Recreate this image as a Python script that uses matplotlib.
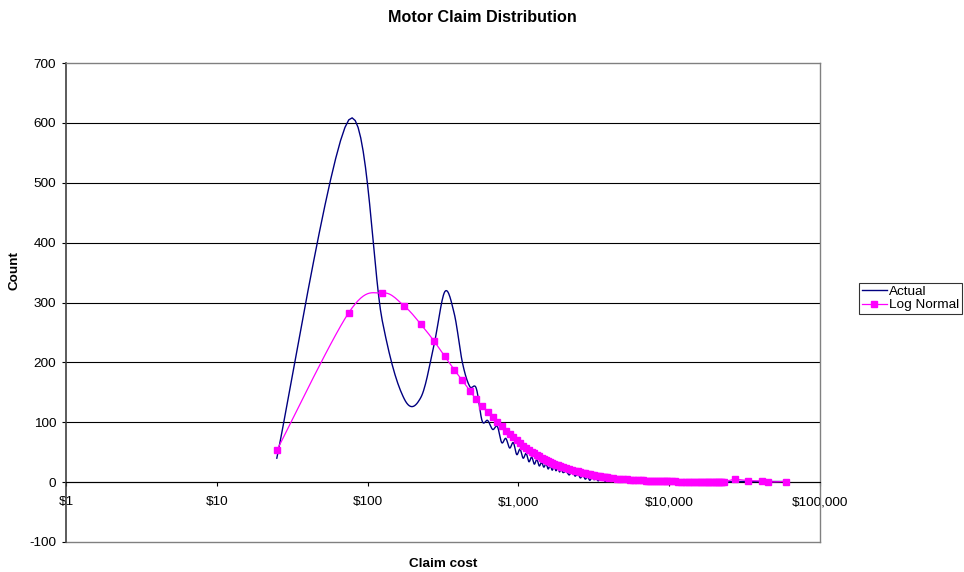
import numpy as np
import matplotlib
matplotlib.use('Agg')
import matplotlib.pyplot as plt
from matplotlib.lines import Line2D
from matplotlib.ticker import FuncFormatter, NullLocator

# claim cost bin centres ($), split by range
cost_to_2k = [25, 75, 125, 175, 225, 275, 325, 375, 425, 475, 525, 575, 625, 675, 725,
              775, 825, 875, 925, 975, 1025, 1075, 1125, 1175, 1225, 1275, 1325, 1375,
              1425, 1475, 1525, 1575, 1625, 1675, 1725, 1775, 1825, 1875, 1925, 1975]
cost_to_4k = [2075, 2175, 2275, 2375, 2475, 2575, 2675, 2775, 2875, 2975,
              3075, 3175, 3275, 3375, 3475, 3575, 3675, 3775, 3875, 3975]
cost_to_10k = [4225, 4475, 4725, 4975, 5225, 5475, 5725, 5975, 6225, 6475, 6725, 6975,
               7225, 7475, 7725, 7975, 8225, 8475, 8725, 8975, 9225, 9475, 9725, 9975]
cost_to_23k = [10475, 10975, 11475, 11975, 12475, 12975, 13475, 13975, 14475, 14975,
               15475, 15975, 16475, 16975, 17475, 17975, 18475, 18975, 19475, 19975,
               20475, 20975, 21475, 21975, 22475, 22975]
cost_large = [27275, 33475, 41425, 45425, 59275]

actual_to_2k = [40, 605, 270, 139, 141, 228, 318, 282, 200, 160, 157, 102, 103, 88, 93,
                66, 73, 57, 66, 46, 55, 40, 48, 34, 42, 30, 38, 27, 33, 25, 31, 22, 28,
                20, 26, 19, 24, 17, 23, 16]
actual_to_4k = [18, 12, 20, 10, 15, 7, 12, 5, 9, 3, 8, 4, 7, 2, 6, 3, 5, 1, 12, 2]
actual_to_10k = [4, 1, 3, 1, 2, 0, 2, 1, 1, 0, 2, 0, 1, 0, 1, 1, 0, 1, 0, 1, 0, 1, 0, 1]
actual_to_23k = [0, 1, 0, 0, 1, 0, 0, 1, 0, 0, 0, 1, 0, 0, 0, 1, 0, 0, 0, 0, 1, 0, 0, 0, 1, 0]
actual_large = [1, 1, 1, 1, 1]

lognorm_to_2k = [53, 283, 316, 294, 264, 236, 210, 188, 170, 153, 138, 127, 117, 108, 100,
                 93, 86, 80, 75, 70, 65, 61, 57, 54, 51, 48, 45, 43, 41, 39, 37, 35, 33.5,
                 32, 30.5, 29, 28, 27, 26, 25]
lognorm_to_4k = [23.5, 22, 20.5, 19, 18, 17, 16, 15, 14, 13, 12.3, 11.6, 11, 10.4, 9.8,
                 9.3, 8.8, 8.3, 7.9, 7.5]
lognorm_to_10k = [6.7, 6.0, 5.4, 4.9, 4.5, 4.1, 3.8, 3.5, 3.2, 3.0, 2.8, 2.6, 2.4, 2.3,
                  2.1, 2.0, 1.9, 1.8, 1.7, 1.6, 1.5, 1.4, 1.35, 1.3]
lognorm_to_23k = [1.2, 1.1, 1.0, 0.95, 0.9, 0.85, 0.8, 0.75, 0.7, 0.65, 0.6, 0.57, 0.54,
                  0.51, 0.48, 0.45, 0.43, 0.41, 0.39, 0.37, 0.35, 0.33, 0.31, 0.3, 0.28, 0.27]
lognorm_large = [4.5, 2.5, 2, 0.3, 1]

cost = np.array(cost_to_2k + cost_to_4k + cost_to_10k + cost_to_23k + cost_large, float)
actual = np.array(actual_to_2k + actual_to_4k + actual_to_10k + actual_to_23k + actual_large, float)
lognorm = np.array(lognorm_to_2k + lognorm_to_4k + lognorm_to_10k + lognorm_to_23k + lognorm_large, float)

plt.rcParams['font.family'] = ['Liberation Sans', 'DejaVu Sans']
plt.rcParams['axes.unicode_minus'] = False

XPX = 150.8   # px per decade
YPX = 0.6     # px per count


def smooth(x, y, n=16):
    # excel style smoothed line (bezier through points), done in screen space
    P = np.column_stack([np.log10(x) * XPX, np.asarray(y) * YPX])
    Pe = np.vstack([P[0], P, P[-1]])
    t = np.linspace(0, 1, n)[:, None]
    segs = []
    for i in range(len(P) - 1):
        p0, p1, p2, p3 = Pe[i], Pe[i + 1], Pe[i + 2], Pe[i + 3]
        c1 = p1 + (p2 - p0) / 6
        c2 = p2 - (p3 - p1) / 6
        segs.append((1 - t) ** 3 * p1 + 3 * (1 - t) ** 2 * t * c1 + 3 * (1 - t) * t ** 2 * c2 + t ** 3 * p2)
    pts = np.vstack(segs)
    return 10 ** (pts[:, 0] / XPX), pts[:, 1] / YPX


fig = plt.figure(figsize=(9.64, 5.72), dpi=100)
ax = fig.add_axes([66 / 964, 1 - 542 / 572, (820 - 66) / 964, (542 - 63) / 572])

xa, ya = smooth(cost, actual)
ax.plot(xa, ya, color='#000080', lw=1.0, zorder=3)
xl, yl = smooth(cost, lognorm)
ax.plot(xl, yl, color='#FF00FF', lw=0.9, zorder=4)
ax.plot(cost, lognorm, ls='none', marker='s', ms=4.3, mec='#FF00FF', mfc='#FF00FF', zorder=5)

ax.set_xscale('log')
ax.set_xlim(1, 1e5)
ax.set_ylim(-100, 700)
ax.set_xticks([1, 10, 100, 1000, 10000, 100000])
ax.xaxis.set_minor_locator(NullLocator())
ax.xaxis.set_major_formatter(FuncFormatter(lambda v, p: '${:,.0f}'.format(v)))
ax.set_yticks(range(-100, 701, 100))

ax.grid(axis='y', color='black', lw=0.8, zorder=1)
gl = ax.get_ygridlines()
gl[0].set_visible(False)
gl[-1].set_visible(False)
ax.set_axisbelow(True)

ax.spines['bottom'].set_position(('data', 0))
ax.spines['bottom'].set_color('black')
ax.spines['bottom'].set_linewidth(0.8)
ax.spines['left'].set_color('#404040')
ax.spines['left'].set_linewidth(1.2)
for s in ['top', 'right']:
    ax.spines[s].set_color('#808080')
    ax.spines[s].set_linewidth(1.0)
ax.plot([0, 1], [0, 0], transform=ax.transAxes, color='#808080', lw=1.0, clip_on=False)

ax.tick_params(axis='x', direction='out', length=3, width=0.8, pad=7, labelsize=9.7)
ax.tick_params(axis='y', direction='out', length=3, width=0.8, pad=4, labelsize=9.7)

fig.text(0.5, 1 - 17 / 572, 'Motor Claim Distribution', ha='center', va='center',
         fontsize=11.6, fontweight='bold')
fig.text(15 / 964, 1 - 270 / 572, 'Count', rotation=90, ha='center', va='center',
         fontsize=9.7, fontweight='bold')
fig.text(443 / 964, 1 - 564 / 572, 'Claim cost', ha='center', va='center',
         fontsize=9.7, fontweight='bold')

handles = [Line2D([], [], color='#000080', lw=1.0),
           Line2D([], [], color='#FF00FF', lw=0.9, marker='s', ms=4)]
leg = fig.legend(handles, ['Actual', 'Log Normal'], loc='upper left',
                 bbox_to_anchor=(859 / 964, 1 - 283 / 572), frameon=True, fancybox=False,
                 edgecolor='black', borderpad=0.2, labelspacing=0.05, handlelength=1.9,
                 handletextpad=0.15, borderaxespad=0, fontsize=9.7)
leg.get_frame().set_linewidth(0.8)

fig.savefig('out.png', dpi=100)
